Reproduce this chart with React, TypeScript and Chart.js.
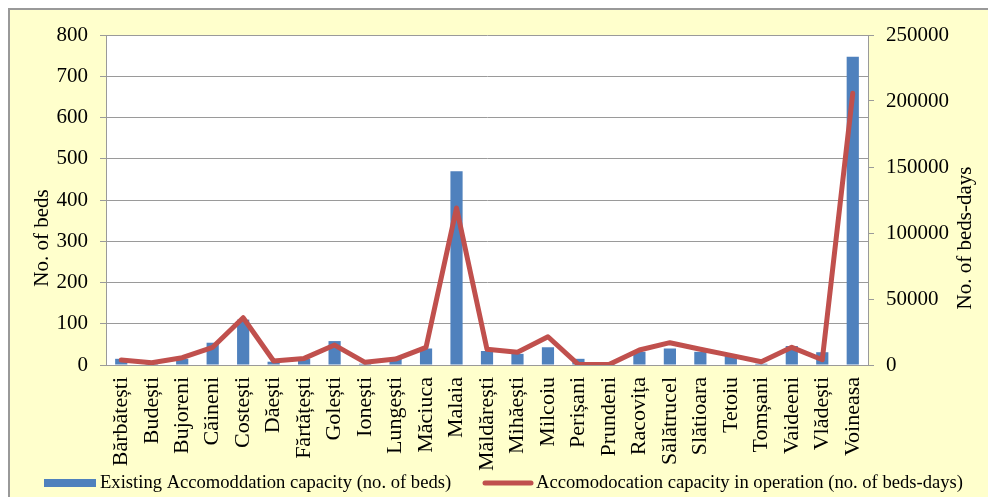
import React, { useEffect, useRef } from 'react';
import { Chart, registerables } from 'chart.js';
Chart.register(...registerables);

const categories = [
  'Bărbătești', 'Budești', 'Bujoreni', 'Căineni', 'Costești', 'Dăești', 'Fărtățești', 'Golești',
  'Ionești', 'Lungești', 'Măciuca', 'Malaia', 'Măldărești', 'Mihăești', 'Milcoiu', 'Perișani',
  'Prundeni', 'Racovița', 'Sălătrucel', 'Slătioara', 'Tetoiu', 'Tomșani', 'Vaideeni', 'Vlădești', 'Voineasa',
];
const bedsValues = [15, 4, 15, 54, 110, 8, 15, 58, 3, 15, 40, 470, 34, 27, 43, 15, 2, 32, 40, 32, 24, 3, 46, 31, 747];
const bedDaysValues = [3800, 1700, 5500, 13400, 35800, 3000, 5000, 15100, 2000, 4500, 13400, 119000, 11900, 9600, 21400, 300, 300, 11400, 16900, 11900, 7300, 2500, 13400, 4000, 205800];
const seriesNames = [
  'Existing Accomoddation capacity (no. of beds)',
  'Accomodocation capacity in operation (no. of beds-days)',
];
const axisTitles = ['No. of beds', 'No. of beds-days'];
const leftAxisRange = [0, 800, 100];
const rightAxisRange = [0, 250000, 50000];

const BLUE = '#4F81BD';
const RED = '#C0504D';
const GRID = '#9a9a9a';
const FONT = '"Liberation Serif", "Times New Roman", serif';

const decorPlugin = {
  id: 'decor',
  beforeDraw(chart: any) {
    const { ctx, chartArea } = chart;
    ctx.save();
    ctx.fillStyle = '#ffffff';
    ctx.fillRect(chartArea.left, chartArea.top, chartArea.right - chartArea.left, chartArea.bottom - chartArea.top);
    ctx.restore();
  },
  afterDraw(chart: any) {
    const { ctx } = chart;
    ctx.save();
    ctx.fillStyle = '#000';
    ctx.font = `21px ${FONT}`;
    ctx.textAlign = 'center';
    ctx.textBaseline = 'middle';
    const midY = 238;
    ctx.save();
    ctx.translate(42, midY);
    ctx.rotate(-Math.PI / 2);
    ctx.fillText(axisTitles[0], 0, 0);
    ctx.restore();
    ctx.save();
    ctx.translate(965, midY);
    ctx.rotate(-Math.PI / 2);
    ctx.fillText(axisTitles[1], 0, 0);
    ctx.restore();

    const ly = 483;
    ctx.font = `18.6px ${FONT}`;
    ctx.textAlign = 'left';
    ctx.fillStyle = BLUE;
    ctx.fillRect(44, ly - 4, 52, 8);
    ctx.fillStyle = '#000';
    ctx.fillText(seriesNames[0], 100, ly);
    ctx.strokeStyle = RED;
    ctx.lineWidth = 5;
    ctx.lineCap = 'round';
    ctx.beginPath();
    ctx.moveTo(485, ly);
    ctx.lineTo(531, ly);
    ctx.stroke();
    ctx.fillText(seriesNames[1], 536, ly);
    ctx.restore();
  },
};

export default function App() {
  const ref = useRef<HTMLCanvasElement>(null);
  useEffect(() => {
    if (!ref.current) return;
    const chart = new Chart(ref.current, {
      type: 'bar',
      data: {
        labels: categories,
        datasets: [
          {
            type: 'line',
            label: seriesNames[1],
            data: bedDaysValues,
            yAxisID: 'y1',
            borderColor: RED,
            backgroundColor: RED,
            borderWidth: 5,
            pointRadius: 0,
            tension: 0,
            borderJoinStyle: 'round',
            borderCapStyle: 'round',
            order: 1,
          } as any,
          {
            type: 'bar',
            label: seriesNames[0],
            data: bedsValues,
            yAxisID: 'y',
            backgroundColor: BLUE,
            barPercentage: 0.4,
            categoryPercentage: 1,
            order: 2,
          },
        ],
      },
      options: {
        responsive: false,
        animation: false,
        devicePixelRatio: 1,
        layout: { padding: { top: 35, left: 0, right: 0, bottom: 0 } },
        plugins: { legend: { display: false }, tooltip: { enabled: false } },
        scales: {
          x: {
            position: 'bottom',
            grid: { drawOnChartArea: false, drawTicks: false },
            border: { display: true, color: GRID, width: 1 },
            ticks: {
              autoSkip: false,
              maxRotation: 90,
              minRotation: 90,
              padding: 12,
              color: '#000',
              font: { family: FONT, size: 22 },
            },
            afterFit(scale: any) { scale.height = 132; },
          },
          y: {
            position: 'left',
            min: leftAxisRange[0],
            max: leftAxisRange[1],
            ticks: { stepSize: leftAxisRange[2], padding: 12, color: '#000', font: { family: FONT, size: 21 } },
            grid: { color: GRID, tickLength: 6, lineWidth: 1 },
            border: { color: GRID, width: 1 },
            afterFit(scale: any) { scale.width = 106; },
          },
          y1: {
            position: 'right',
            min: rightAxisRange[0],
            max: rightAxisRange[1],
            ticks: {
              stepSize: rightAxisRange[2], padding: 12, color: '#000', font: { family: FONT, size: 21 },
              callback: (v: any) => String(v),
            },
            grid: { drawOnChartArea: false, color: GRID, tickLength: 6, lineWidth: 1 },
            border: { color: GRID, width: 1 },
            afterFit(scale: any) { scale.width = 120; },
          },
        },
      },
      plugins: [decorPlugin],
    } as any);
    return () => chart.destroy();
  }, []);

  return (
    <div style={{ position: 'absolute', left: 0, top: 0, width: 988, height: 497, overflow: 'hidden' }}>
      <div
        style={{
          position: 'absolute', left: 8, top: 8, width: 1000, height: 520,
          background: '#FFFFCC', border: '2px solid #999', boxSizing: 'border-box',
        }}
      />
      <canvas ref={ref} width={988} height={497} style={{ position: 'absolute', left: 0, top: 0, width: 988, height: 497 }} />
    </div>
  );
}
